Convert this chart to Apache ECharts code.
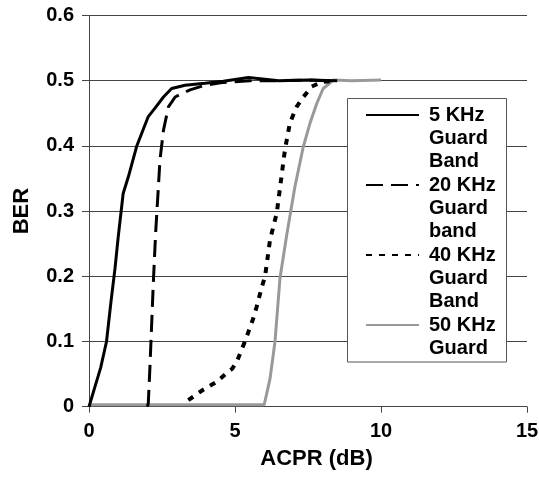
<!DOCTYPE html>
<html>
<head>
<meta charset="utf-8">
<script src="https://cdn.jsdelivr.net/npm/echarts@6/dist/echarts.min.js"></script>
<style>html,body{margin:0;padding:0;background:#fff;}#c{width:539px;height:477px;}</style>
</head>
<body>
<div id="c"></div>
<script>
// ---- data ----
var seriesNames = ['5 KHz Guard Band', '20 KHz Guard band', '40 KHz Guard Band', '50 KHz Guard'];
var legendLabels = [' \n \n5 KHz\nGuard\nBand', ' \n \n20 KHz\nGuard\nband', ' \n \n40 KHz\nGuard\nBand', ' \n \n50 KHz\nGuard\n '];

var s5x = [0, 0.03, 0.2, 0.4, 0.6, 0.75, 0.89, 1.0, 1.17, 1.35, 1.63, 2.03, 2.26, 2.55, 2.83, 3.29, 3.97, 4.6, 5.46, 6.5, 7.5, 8.5];
var s5y = [0, 0.003, 0.03, 0.06, 0.1, 0.16, 0.212, 0.26, 0.327, 0.353, 0.399, 0.445, 0.458, 0.475, 0.488, 0.493, 0.496, 0.499, 0.505, 0.5, 0.501, 0.5];

var s20x = [2.0, 2.03, 2.09, 2.2, 2.28, 2.43, 2.55, 2.72, 2.95, 3.46, 3.97, 4.5, 5.5, 6.5, 7.5, 8.2];
var s20y = [0, 0.005, 0.064, 0.187, 0.265, 0.378, 0.424, 0.46, 0.475, 0.486, 0.493, 0.497, 0.5, 0.5, 0.501, 0.5];

var s40x = [3.4, 3.91, 4.37, 4.77, 4.9, 5.06, 5.34, 5.63, 5.74, 5.91, 6.03, 6.2, 6.43, 6.71, 6.88, 7.11, 7.34, 7.63, 7.97, 8.4];
var s40y = [0.01, 0.026, 0.038, 0.054, 0.058, 0.069, 0.1, 0.136, 0.153, 0.182, 0.2, 0.256, 0.297, 0.394, 0.435, 0.46, 0.475, 0.491, 0.498, 0.5];

var s50x = [0, 1, 2, 3, 4, 5, 6.0, 6.2, 6.37, 6.54, 6.77, 7.05, 7.34, 7.57, 7.8, 8.02, 8.37, 9.0, 10.0];
var s50y = [0.003, 0.003, 0.003, 0.003, 0.003, 0.003, 0.003, 0.043, 0.1, 0.197, 0.263, 0.337, 0.399, 0.435, 0.465, 0.488, 0.501, 0.5, 0.501];

var xTicks = [0, 5, 10, 15];
var yTicks = ['0', '0.1', '0.2', '0.3', '0.4', '0.5', '0.6'];

function zip(xs, ys) { return xs.map(function (x, i) { return [x, ys[i]]; }); }

var FONT = '"Liberation Sans", Arial, Helvetica, sans-serif';
var chart = echarts.init(document.getElementById('c'), null, {renderer: 'canvas'});

var lineStyles = [
  {color: '#000', width: 3, type: 'solid'},
  {color: '#000', width: 3, type: [17, 8]},
  {color: '#000', width: 4, type: [6, 7]},
  {color: '#999', width: 3, type: 'solid'}
];
var datas = [zip(s5x, s5y), zip(s20x, s20y), zip(s40x, s40y), zip(s50x, s50y)];

chart.setOption({
  animation: false,
  backgroundColor: '#fff',
  grid: {left: 89, right: 12, top: 15.5, bottom: 70.3, outerBoundsMode: 'none', containLabel: false},
  xAxis: {
    type: 'value', min: 0, max: 15, interval: 5,
    name: 'ACPR (dB)', nameLocation: 'middle', nameGap: 41,
    nameTextStyle: {fontFamily: FONT, fontWeight: 'bold', fontSize: 22, color: '#000', padding: [0, 0, 0, 17]},
    axisLine: {show: true, lineStyle: {color: '#444', width: 1}},
    axisTick: {show: true, inside: false, length: 6, lineStyle: {color: '#444'}},
    axisLabel: {margin: 15, fontFamily: FONT, fontWeight: 'bold', fontSize: 20, color: '#000',
      formatter: function (v) { return xTicks.indexOf(v) >= 0 ? String(v) : ''; }},
    splitLine: {show: false}
  },
  yAxis: {
    type: 'value', min: 0, max: 0.6, interval: 0.1,
    name: 'BER', nameLocation: 'middle', nameGap: 56, nameRotate: 90,
    nameTextStyle: {fontFamily: FONT, fontWeight: 'bold', fontSize: 22, color: '#000'},
    axisLine: {show: true, lineStyle: {color: '#444', width: 1}},
    axisTick: {show: true, inside: false, length: 7, lineStyle: {color: '#444'}},
    axisLabel: {margin: 15, fontFamily: FONT, fontWeight: 'bold', fontSize: 20, color: '#000',
      formatter: function (v) { return yTicks[Math.round(v * 10)]; }},
    splitLine: {show: true, lineStyle: {color: '#444', width: 1}}
  },
  legend: {
    orient: 'vertical', left: 365, top: 57.5, padding: 0, itemGap: -45,
    itemWidth: 53, itemHeight: 14, selectedMode: false, z: 5,
    data: seriesNames,
    itemStyle: {opacity: 0},
    formatter: function (name) { return legendLabels[seriesNames.indexOf(name)]; },
    textStyle: {fontFamily: FONT, fontWeight: 'bold', fontSize: 20, lineHeight: 23, color: '#000', padding: [0, 0, 0, 5]}
  },
  graphic: [{
    type: 'rect', z: 3, silent: true,
    shape: {x: 347.5, y: 98.5, width: 159, height: 263.5},
    style: {fill: '#fff', stroke: '#555', lineWidth: 1}
  }],
  series: datas.map(function (d, i) {
    return {
      name: seriesNames[i], type: 'line', data: d, symbol: 'none', showSymbol: false,
      smooth: false, lineStyle: lineStyles[i], itemStyle: {color: lineStyles[i].color},
      z: i === 3 ? 1 : 2
    };
  })
});
</script>
</body>
</html>
